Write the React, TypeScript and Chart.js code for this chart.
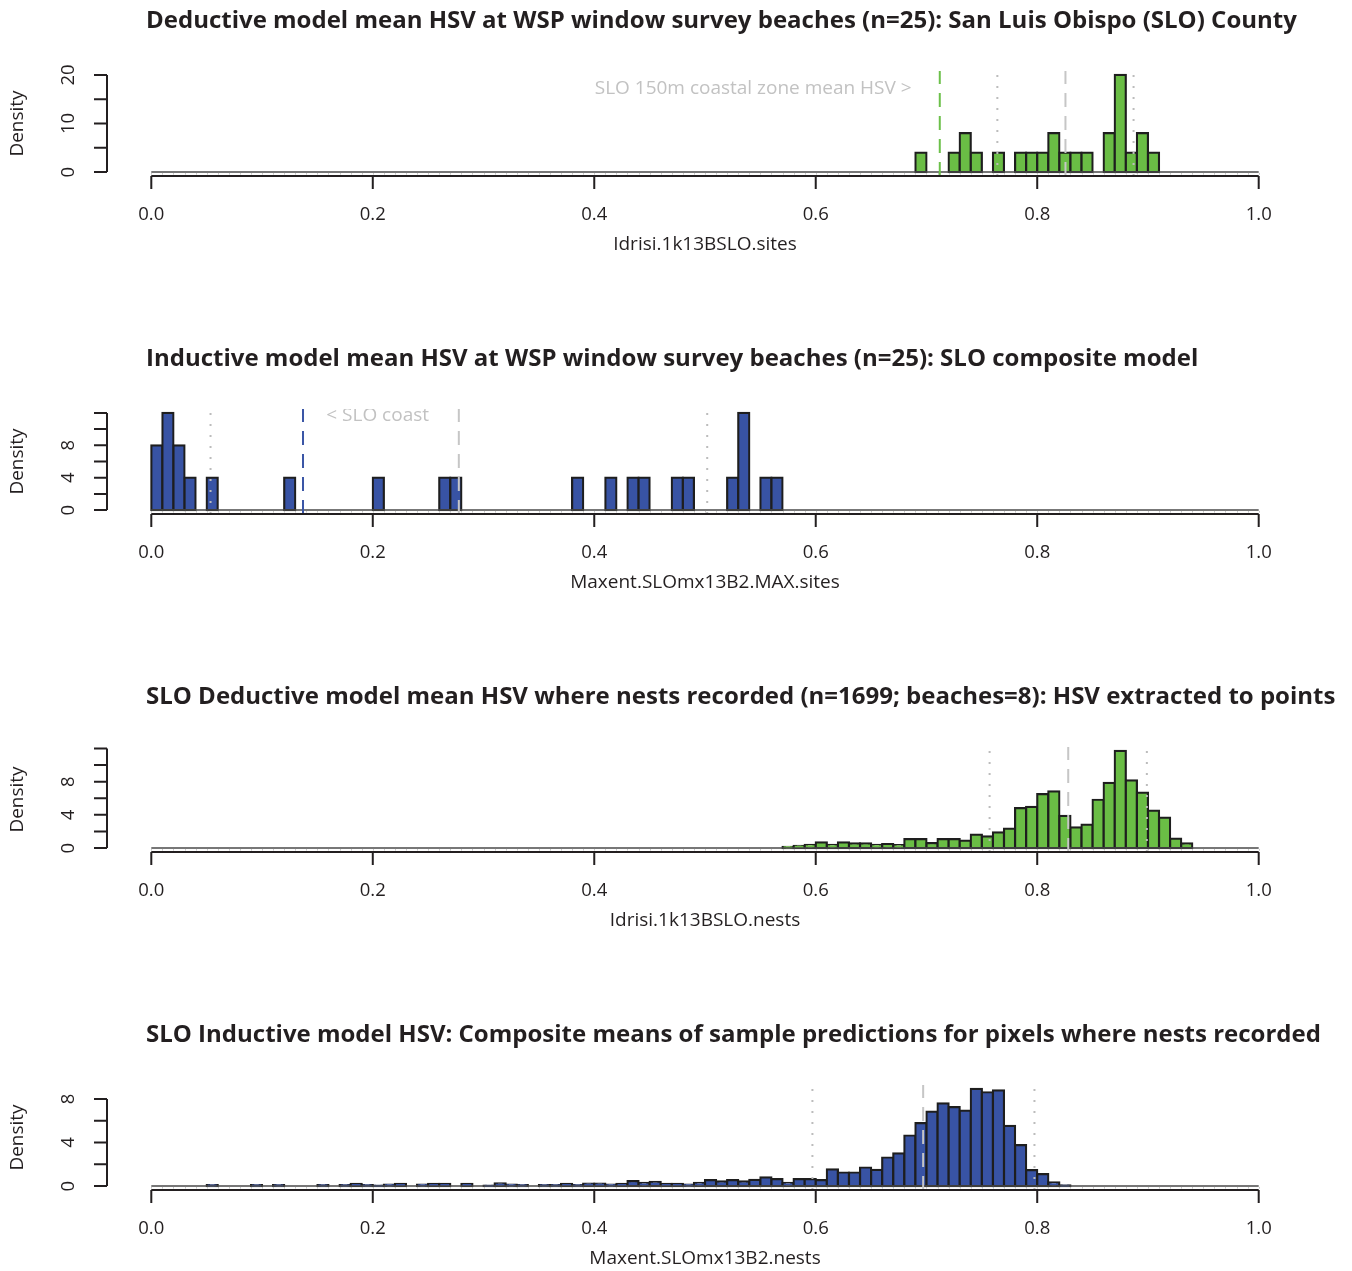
import React, { useEffect, useRef } from "react";
import { Chart, registerables } from "chart.js";

Chart.register(...registerables);

// ---------- shared axis data ----------
const BIN_WIDTH = 0.01;
const xTickValues = [0, 0.2, 0.4, 0.6, 0.8, 1.0];
const xTickLabels = ["0.0", "0.2", "0.4", "0.6", "0.8", "1.0"];
const xRange = [0, 1];

// ---------- panel 1: Deductive model, sites ----------
const p1Title = "Deductive model mean HSV at WSP window survey beaches (n=25): San Luis Obispo (SLO) County";
const p1XLabel = "Idrisi.1k13BSLO.sites";
const p1BinStarts = [0.69, 0.72, 0.73, 0.74, 0.76, 0.78, 0.79, 0.80, 0.81, 0.82, 0.83, 0.84, 0.86, 0.87, 0.88, 0.89, 0.90];
const p1Density = [4, 4, 8, 4, 4, 4, 4, 4, 8, 4, 4, 4, 8, 20, 4, 8, 4];
const p1YTicks = [0, 5, 10, 15, 20];
const p1YLabels = [0, 10, 20];
const p1CoastMean = [0.712];
const p1Median = [0.8255];
const p1Quantiles = [0.764, 0.887];
const p1Note = "SLO 150m coastal zone mean HSV >";
const p1NoteAt = [0.6866, 16.0];

// ---------- panel 2: Inductive model, sites ----------
const p2Title = "Inductive model mean HSV at WSP window survey beaches (n=25): SLO composite model";
const p2XLabel = "Maxent.SLOmx13B2.MAX.sites";
const p2BinStarts = [0.00, 0.01, 0.02, 0.03, 0.05, 0.12, 0.20, 0.26, 0.27, 0.38, 0.41, 0.43, 0.44, 0.47, 0.48, 0.52, 0.53, 0.55, 0.56];
const p2Density = [8, 12, 8, 4, 4, 4, 4, 4, 4, 4, 4, 4, 4, 4, 4, 4, 12, 4, 4];
const p2YTicks = [0, 2, 4, 6, 8, 10, 12];
const p2YLabels = [0, 4, 8];
const p2CoastMean = [0.137];
const p2Median = [0.2777];
const p2Quantiles = [0.0535, 0.502];
const p2Note = "< SLO coast";
const p2NoteAt = [0.158, 11.05];

// ---------- panel 3: Deductive model, nests ----------
const p3Title = "SLO Deductive model mean HSV where nests recorded (n=1699; beaches=8): HSV extracted to points";
const p3XLabel = "Idrisi.1k13BSLO.nests";
const p3BinStarts = [
  0.57, 0.58, 0.59, 0.60, 0.61, 0.62, 0.63, 0.64, 0.65, 0.66, 0.67, 0.68, 0.69,
  0.70, 0.71, 0.72, 0.73, 0.74, 0.75, 0.76, 0.77, 0.78, 0.79, 0.80, 0.81, 0.82,
  0.83, 0.84, 0.85, 0.86, 0.87, 0.88, 0.89, 0.90, 0.91, 0.92, 0.93,
];
const p3Density = [
  0.16, 0.28, 0.4, 0.69, 0.4, 0.69, 0.57, 0.57, 0.4, 0.48, 0.36, 1.09, 1.09,
  0.6, 1.09, 1.09, 0.89, 1.62, 1.41, 1.9, 2.34, 4.81, 4.97, 6.5, 6.83, 3.88,
  2.5, 2.83, 5.82, 7.84, 11.7, 8.16, 6.67, 4.52, 3.68, 1.13, 0.57,
];
const p3YTicks = [0, 2, 4, 6, 8, 10, 12];
const p3YLabels = [0, 4, 8];
const p3Median = [0.828];
const p3Quantiles = [0.757, 0.899];

// ---------- panel 4: Inductive model, nests ----------
const p4Title = "SLO Inductive model HSV: Composite means of sample predictions for pixels where nests recorded";
const p4XLabel = "Maxent.SLOmx13B2.nests";
const p4BinStarts = [
  0.05, 0.09, 0.11, 0.15, 0.17, 0.18, 0.19, 0.20, 0.21, 0.22, 0.24, 0.25, 0.26,
  0.28, 0.30, 0.31, 0.32, 0.33, 0.35, 0.36, 0.37, 0.38,
  0.39, 0.40, 0.41, 0.42, 0.43, 0.44, 0.45, 0.46, 0.47, 0.48, 0.49, 0.50, 0.51,
  0.52, 0.53, 0.54, 0.55, 0.56, 0.57, 0.58, 0.59, 0.60, 0.61, 0.62, 0.63, 0.64,
  0.65, 0.66, 0.67, 0.68, 0.69, 0.70, 0.71, 0.72, 0.73, 0.74, 0.75, 0.76, 0.77,
  0.78, 0.79, 0.80, 0.81, 0.82,
];
const p4Density = [
  0.1, 0.1, 0.1, 0.1, 0.1, 0.2, 0.1, 0.05, 0.15, 0.2, 0.15, 0.2, 0.2,
  0.2, 0.05, 0.25, 0.15, 0.1, 0.1, 0.1, 0.2, 0.1,
  0.24, 0.24, 0.15, 0.2, 0.46, 0.3, 0.4, 0.2, 0.2, 0.15, 0.3, 0.55, 0.43,
  0.55, 0.43, 0.58, 0.8, 0.64, 0.3, 0.64, 0.64, 0.55, 1.53, 1.25, 1.25, 1.71,
  1.5, 2.63, 3.0, 4.65, 5.78, 6.85, 7.6, 7.25, 6.94, 8.93, 8.62, 8.8, 5.53,
  3.76, 1.47, 1.1, 0.34, 0.06,
];
const p4YTicks = [0, 2, 4, 6, 8];
const p4YLabels = [0, 4, 8];
const p4Median = [0.697];
const p4Quantiles = [0.597, 0.7975];

// ---------- styles ----------
const GREEN = "#6abd45";
const GREEN_LINE = "#6cc04a";
const BLUE = "#3853a4";
const BLUE_LINE = "#3b56a6";
const INK = "#231f20";
const GRAY_TEXT = "#c2c2c2";
const GRAY_DASH = "#c6c6c6";
const GRAY_DOT = "#bcbcbc";
const FONT = "'Open Sans', 'Noto Sans', sans-serif";

const PANEL_H = 338;
const CANVAS_W = 1352;

type Panel = {
  title: string;
  xLabel: string;
  bins: number[];
  density: number[];
  fill: string;
  yTicks: number[];
  yLabels: number[];
  coastMean?: number[];
  coastColor?: string;
  median: number[];
  quantiles: number[];
  note?: string;
  noteAt?: number[];
  noteAlign?: CanvasTextAlign;
};

const panels: Panel[] = [
  {
    title: p1Title, xLabel: p1XLabel, bins: p1BinStarts, density: p1Density, fill: GREEN,
    yTicks: p1YTicks, yLabels: p1YLabels, coastMean: p1CoastMean, coastColor: GREEN_LINE,
    median: p1Median, quantiles: p1Quantiles, note: p1Note, noteAt: p1NoteAt, noteAlign: "right",
  },
  {
    title: p2Title, xLabel: p2XLabel, bins: p2BinStarts, density: p2Density, fill: BLUE,
    yTicks: p2YTicks, yLabels: p2YLabels, coastMean: p2CoastMean, coastColor: BLUE_LINE,
    median: p2Median, quantiles: p2Quantiles, note: p2Note, noteAt: p2NoteAt, noteAlign: "left",
  },
  {
    title: p3Title, xLabel: p3XLabel, bins: p3BinStarts, density: p3Density, fill: GREEN,
    yTicks: p3YTicks, yLabels: p3YLabels, median: p3Median, quantiles: p3Quantiles,
  },
  {
    title: p4Title, xLabel: p4XLabel, bins: p4BinStarts, density: p4Density, fill: BLUE,
    yTicks: p4YTicks, yLabels: p4YLabels, median: p4Median, quantiles: p4Quantiles,
  },
];

const rStylePlugin = {
  id: "rStyle",
  afterDatasetsDraw(chart: any, _args: any, opts: any) {
    const p: Panel = opts.panel;
    const { ctx, chartArea } = chart;
    const xs = chart.scales.x;
    const ys = chart.scales.y;
    const x0 = xs.getPixelForValue(xRange[0]);
    const x1 = xs.getPixelForValue(xRange[1]);
    const yZero = ys.getPixelForValue(0);
    ctx.save();

    // baseline of zero-height bins
    ctx.strokeStyle = "#4a4a4a";
    ctx.lineWidth = 1.5;
    ctx.beginPath();
    ctx.moveTo(x0, yZero);
    ctx.lineTo(x1, yZero);
    ctx.stroke();
    ctx.lineWidth = 0.7;
    ctx.strokeStyle = "#b0b0b0";
    ctx.beginPath();
    for (let v = xRange[0]; v <= xRange[1] + 1e-9; v += BIN_WIDTH) {
      const px = Math.round(xs.getPixelForValue(v)) + 0.5;
      ctx.moveTo(px, yZero + 0.8);
      ctx.lineTo(px, yZero + 2.5);
    }
    ctx.stroke();

    // vertical reference lines
    const vline = (v: number, color: string, dash: number[], w: number) => {
      const px = xs.getPixelForValue(v);
      ctx.strokeStyle = color;
      ctx.lineWidth = w;
      ctx.setLineDash(dash);
      ctx.beginPath();
      ctx.moveTo(px, chartArea.bottom);
      ctx.lineTo(px, chartArea.top);
      ctx.stroke();
      ctx.setLineDash([]);
    };
    p.quantiles.forEach((v) => vline(v, GRAY_DOT, [2, 9], 2));
    p.median.forEach((v) => vline(v, GRAY_DASH, [14, 9], 2));
    (p.coastMean || []).forEach((v) => vline(v, p.coastColor || INK, [14, 9], 2));

    // annotation text, clipped to plot region
    if (p.note && p.noteAt) {
      ctx.save();
      ctx.beginPath();
      ctx.rect(chartArea.left, chartArea.top, chartArea.right - chartArea.left, chartArea.bottom - chartArea.top);
      ctx.clip();
      ctx.fillStyle = GRAY_TEXT;
      ctx.font = `19px ${FONT}`;
      ctx.textAlign = p.noteAlign || "left";
      ctx.textBaseline = "alphabetic";
      ctx.fillText(p.note, xs.getPixelForValue(p.noteAt[0]), ys.getPixelForValue(p.noteAt[1]));
      ctx.restore();
    }

    // x axis
    ctx.strokeStyle = INK;
    ctx.lineWidth = 2;
    const yAxis = chartArea.bottom;
    ctx.beginPath();
    ctx.moveTo(x0, yAxis);
    ctx.lineTo(x1, yAxis);
    xTickValues.forEach((v) => {
      const px = xs.getPixelForValue(v);
      ctx.moveTo(px, yAxis);
      ctx.lineTo(px, yAxis + 13);
    });
    ctx.stroke();
    ctx.fillStyle = INK;
    ctx.font = `18.5px ${FONT}`;
    ctx.textAlign = "center";
    ctx.textBaseline = "middle";
    xTickValues.forEach((v, i) => {
      ctx.fillText(xTickLabels[i], xs.getPixelForValue(v), yAxis + 39);
    });
    ctx.font = `19px ${FONT}`;
    ctx.fillText(p.xLabel, (chartArea.left + chartArea.right) / 2, yAxis + 69);

    // y axis
    const xAxis = chartArea.left;
    const yt0 = ys.getPixelForValue(p.yTicks[0]);
    const yt1 = ys.getPixelForValue(p.yTicks[p.yTicks.length - 1]);
    ctx.beginPath();
    ctx.moveTo(xAxis, yt0);
    ctx.lineTo(xAxis, yt1);
    p.yTicks.forEach((v) => {
      const py = ys.getPixelForValue(v);
      ctx.moveTo(xAxis, py);
      ctx.lineTo(xAxis - 13, py);
    });
    ctx.stroke();
    ctx.font = `18.5px ${FONT}`;
    p.yLabels.forEach((v) => {
      ctx.save();
      ctx.translate(xAxis - 38, ys.getPixelForValue(v));
      ctx.rotate(-Math.PI / 2);
      ctx.textAlign = "center";
      ctx.textBaseline = "middle";
      ctx.fillText(String(v), 0, 0);
      ctx.restore();
    });
    ctx.save();
    ctx.translate(18, (chartArea.top + chartArea.bottom) / 2);
    ctx.rotate(-Math.PI / 2);
    ctx.font = `19px ${FONT}`;
    ctx.textAlign = "center";
    ctx.textBaseline = "middle";
    ctx.fillText("Density", 0, 0);
    ctx.restore();

    // title
    ctx.fillStyle = INK;
    ctx.font = `bold 24px ${FONT}`;
    ctx.textAlign = "left";
    ctx.textBaseline = "middle";
    ctx.fillText(p.title, 146, 21);

    ctx.restore();
  },
};

function HistPanel({ panel, top }: { panel: Panel; top: number }) {
  const ref = useRef<HTMLCanvasElement | null>(null);
  useEffect(() => {
    if (!ref.current) return;
    const maxD = Math.max(...panel.density);
    const lo = xRange[0] - 0.04 * (xRange[1] - xRange[0]);
    const hi = xRange[1] + 0.04 * (xRange[1] - xRange[0]);
    const chart = new Chart(ref.current, {
      type: "bar",
      data: {
        datasets: [
          {
            data: panel.bins.map((b, i) => ({ x: b + BIN_WIDTH / 2, y: panel.density[i] })),
            backgroundColor: panel.fill,
            borderColor: "#1e1e1e",
            borderWidth: 2.2,
            borderSkipped: false,
            inflateAmount: 1.1,
            barPercentage: 1,
            categoryPercentage: 1,
          } as any,
        ],
      },
      options: {
        animation: false,
        responsive: false,
        devicePixelRatio: 1,
        layout: { padding: { left: 107, right: CANVAS_W - 1303, top: 71, bottom: PANEL_H - 176 } },
        plugins: {
          legend: { display: false },
          title: { display: false },
          tooltip: { enabled: false },
          rStyle: { panel },
        } as any,
        scales: {
          x: { type: "linear", min: lo, max: hi, offset: false, display: false },
          y: { type: "linear", min: -0.04 * maxD, max: 1.04 * maxD, display: false },
        },
      },
      plugins: [rStylePlugin],
    });
    return () => chart.destroy();
  }, [panel]);
  return (
    <canvas
      ref={ref}
      width={CANVAS_W}
      height={PANEL_H}
      style={{ position: "absolute", left: 0, top, width: CANVAS_W, height: PANEL_H }}
    />
  );
}

export default function App() {
  return (
    <div
      style={{
        position: "absolute",
        left: 0,
        top: 0,
        width: 1352,
        height: 1271,
        overflow: "hidden",
        background: "#fff",
      }}
    >
      {panels.map((p, i) => (
        <HistPanel key={i} panel={p} top={i * PANEL_H} />
      ))}
    </div>
  );
}
